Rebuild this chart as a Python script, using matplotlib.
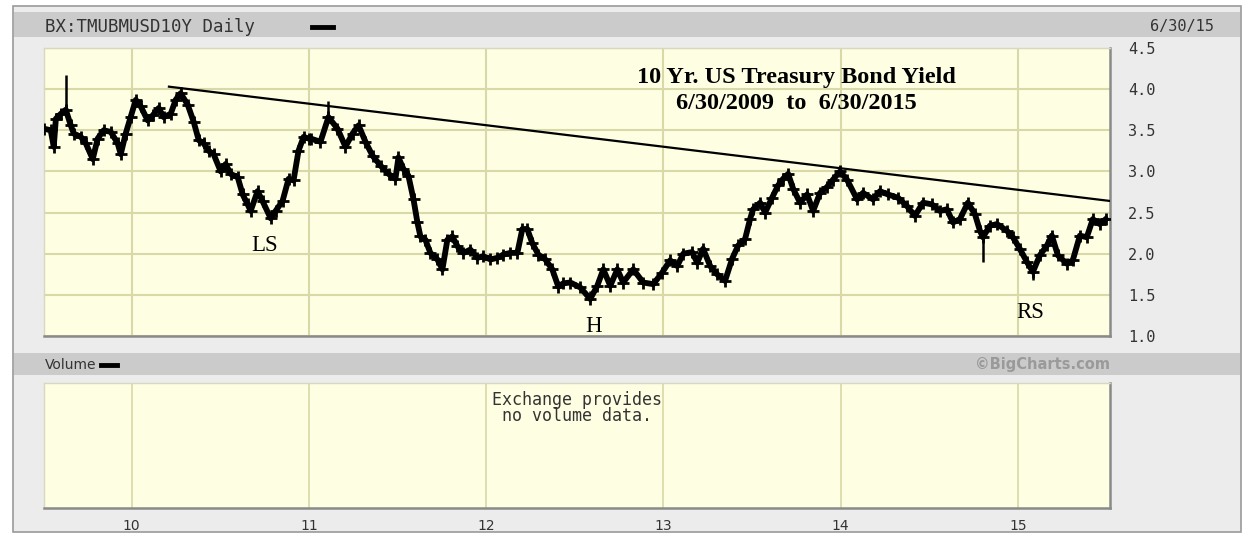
import matplotlib
matplotlib.use("Agg")
import matplotlib.pyplot as plt
from matplotlib.patches import Rectangle
from matplotlib.lines import Line2D

# ---------------- data (decimal years, yield %) ----------------
t = [2009.504, 2009.543, 2009.560, 2009.572, 2009.600, 2009.628, 2009.656, 2009.673,
     2009.713, 2009.741, 2009.780, 2009.808, 2009.842, 2009.882, 2009.921, 2009.938,
     2009.966, 2009.994, 2010.023, 2010.051, 2010.090, 2010.118, 2010.152, 2010.180,
     2010.220, 2010.248, 2010.276, 2010.316, 2010.350, 2010.378, 2010.406, 2010.434,
     2010.462, 2010.502, 2010.530, 2010.558, 2010.598, 2010.626, 2010.654, 2010.671,
     2010.710, 2010.738, 2010.784, 2010.812, 2010.851, 2010.885, 2010.913, 2010.941,
     2010.970, 2010.998, 2011.009, 2011.065, 2011.110, 2011.161, 2011.206, 2011.246,
     2011.280, 2011.319, 2011.359, 2011.404, 2011.449, 2011.488, 2011.505, 2011.533,
     2011.561, 2011.590, 2011.612, 2011.629, 2011.657, 2011.685, 2011.725, 2011.753,
     2011.781, 2011.809, 2011.838, 2011.872, 2011.911, 2011.950, 2011.984, 2012.024,
     2012.063, 2012.097, 2012.136, 2012.176, 2012.204, 2012.232, 2012.260, 2012.294,
     2012.334, 2012.373, 2012.407, 2012.435, 2012.475, 2012.531, 2012.587, 2012.627,
     2012.661, 2012.700, 2012.740, 2012.773, 2012.830, 2012.886, 2012.943, 2012.993,
     2013.038, 2013.078, 2013.112, 2013.162, 2013.191, 2013.224, 2013.264, 2013.303,
     2013.348, 2013.388, 2013.422, 2013.461, 2013.489, 2013.506, 2013.546, 2013.574,
     2013.613, 2013.647, 2013.675, 2013.704, 2013.732, 2013.771, 2013.811, 2013.845,
     2013.884, 2013.923, 2013.957, 2013.997, 2014.036, 2014.093, 2014.126, 2014.183,
     2014.222, 2014.267, 2014.324, 2014.374, 2014.419, 2014.465, 2014.515, 2014.560,
     2014.600, 2014.634, 2014.673, 2014.718, 2014.758, 2014.786, 2014.803, 2014.842,
     2014.882, 2014.938, 2014.972, 2015.011, 2015.051, 2015.085, 2015.124, 2015.164,
     2015.192, 2015.226, 2015.276, 2015.310, 2015.350, 2015.389, 2015.423, 2015.462,
     2015.496]
yld = [3.52, 3.50, 3.30, 3.64, 3.70, 3.75, 3.56, 3.46,
       3.42, 3.34, 3.15, 3.40, 3.50, 3.48, 3.34, 3.21,
       3.46, 3.66, 3.87, 3.79, 3.62, 3.68, 3.77, 3.66,
       3.70, 3.87, 3.95, 3.81, 3.60, 3.38, 3.34, 3.25,
       3.21, 3.00, 3.09, 2.97, 2.93, 2.72, 2.60, 2.52,
       2.76, 2.64, 2.43, 2.52, 2.64, 2.91, 2.89, 3.25,
       3.42, 3.40, 3.40, 3.36, 3.66, 3.52, 3.30, 3.46,
       3.56, 3.36, 3.19, 3.07, 2.97, 2.91, 3.17, 3.03,
       2.95, 2.66, 2.38, 2.21, 2.17, 2.01, 1.93, 1.81,
       2.17, 2.21, 2.09, 2.01, 2.05, 1.95, 1.97, 1.93,
       1.95, 1.99, 2.01, 2.01, 2.30, 2.30, 2.13, 1.99,
       1.93, 1.81, 1.60, 1.64, 1.65, 1.59, 1.45, 1.61,
       1.81, 1.61, 1.81, 1.65, 1.81, 1.65, 1.63, 1.77,
       1.92, 1.85, 2.00, 2.02, 1.89, 2.06, 1.85, 1.75,
       1.67, 1.94, 2.10, 2.18, 2.42, 2.54, 2.62, 2.50,
       2.68, 2.83, 2.91, 2.97, 2.79, 2.62, 2.72, 2.52,
       2.74, 2.81, 2.90, 3.00, 2.90, 2.66, 2.74, 2.66,
       2.76, 2.72, 2.68, 2.58, 2.46, 2.62, 2.60, 2.52,
       2.54, 2.38, 2.42, 2.62, 2.48, 2.28, 2.20, 2.34,
       2.36, 2.28, 2.20, 2.06, 1.90, 1.78, 1.98, 2.10,
       2.22, 1.98, 1.88, 1.92, 2.22, 2.20, 2.42, 2.36,
       2.42]

# single-day spikes (date, low, high)
spike_t = [2009.628, 2011.110, 2012.587, 2014.803, 2015.085]
spike_lo = [3.70, 3.60, 1.42, 1.90, 1.68]
spike_hi = [4.17, 3.85, 1.55, 2.25, 1.85]

# resistance (trend) line
trend_t = [2010.21, 2015.60]
trend_y = [4.03, 2.62]

year_ticks = [2010, 2011, 2012, 2013, 2014, 2015]
year_labels = ["10", "11", "12", "13", "14", "15"]
y_ticks = [1.0, 1.5, 2.0, 2.5, 3.0, 3.5, 4.0, 4.5]
y_labels = ["1.0", "1.5", "2.0", "2.5", "3.0", "3.5", "4.0", "4.5"]

pattern_labels = ["LS", "H", "RS"]
pattern_t = [2010.75, 2012.605, 2015.07]
pattern_y = [2.10, 1.12, 1.28]

# ---------------- figure ----------------
W, H = 1245, 533
fig = plt.figure(figsize=(W / 100, H / 100), dpi=100)
fig.patch.set_facecolor("white")

def fx(x):
    return x / W

def fy(y):
    return 1 - y / H

BG = "#ececec"
BAND = "#cbcbcb"
PLOT_BG = "#fefee2"
GRID = "#d8d8a8"
TXT = "#333333"
MONO = "DejaVu Sans Mono"

# outer panel
fig.patches.append(Rectangle((fx(13), fy(532)), fx(1241) - fx(13), fy(6) - fy(532),
                             transform=fig.transFigure, facecolor=BG,
                             edgecolor="#9a9a9a", lw=1.2, zorder=-2))
# header bands
fig.patches.append(Rectangle((fx(14), fy(37)), fx(1240) - fx(14), fy(12) - fy(37),
                             transform=fig.transFigure, facecolor=BAND,
                             edgecolor="none", zorder=-1))
fig.patches.append(Rectangle((fx(14), fy(375)), fx(1240) - fx(14), fy(353) - fy(375),
                             transform=fig.transFigure, facecolor=BAND,
                             edgecolor="none", zorder=-1))

# ---------------- main price axes ----------------
ax = fig.add_axes([fx(44), fy(336), fx(1110) - fx(44), fy(48) - fy(336)])
ax.set_zorder(1)
ax.set_facecolor(PLOT_BG)
ax.set_xlim(2009.505, 2015.52)
ax.set_ylim(1.0, 4.5)
ax.set_xticks(year_ticks)
ax.set_xticklabels([])
ax.set_yticks(y_ticks)
ax.set_yticklabels(y_labels, family=MONO, fontsize=11, color=TXT)
ax.yaxis.tick_right()
ax.tick_params(axis="y", length=0, pad=13)
ax.tick_params(axis="x", length=0)
ax.grid(True, color=GRID, lw=1.5)
ax.set_axisbelow(True)
for s in ["left", "top"]:
    ax.spines[s].set_color("#d8d8c0")
    ax.spines[s].set_linewidth(1)
for s in ["right", "bottom"]:
    ax.spines[s].set_color("#8a8a8a")
    ax.spines[s].set_linewidth(1.8)

ax.plot(t, yld, color="black", lw=4.2, solid_joinstyle="round", zorder=3)
ax.plot(t, yld, ls="none", marker="+", ms=9, mew=2.0, color="black", zorder=3)
ax.vlines(spike_t, spike_lo, spike_hi, color="black", lw=1.8, zorder=3)
ax.plot(trend_t, trend_y, color="black", lw=1.6, zorder=4)

for lab, xt, yv in zip(pattern_labels, pattern_t, pattern_y):
    ax.text(xt, yv, lab, family="Liberation Serif", fontsize=16.5, color="black",
            ha="center", va="center", zorder=5)

ax.text(0.706, 0.896, "10 Yr. US Treasury Bond Yield", transform=ax.transAxes,
        family="Liberation Serif", fontweight="bold", fontsize=17.5,
        ha="center", va="center", zorder=5)
ax.text(0.706, 0.809, "6/30/2009  to  6/30/2015", transform=ax.transAxes,
        family="Liberation Serif", fontweight="bold", fontsize=17.5,
        ha="center", va="center", zorder=5)

# ---------------- volume axes ----------------
av = fig.add_axes([fx(44), fy(508), fx(1110) - fx(44), fy(383) - fy(508)])
av.set_zorder(1)
av.set_facecolor(PLOT_BG)
av.set_xlim(2009.505, 2015.52)
av.set_ylim(0, 1)
av.set_xticks(year_ticks)
av.set_xticklabels(year_labels, family="DejaVu Sans", fontsize=10, color=TXT)
av.set_yticks([])
av.tick_params(axis="x", length=0, pad=8)
av.grid(True, axis="x", color=GRID, lw=1.2)
for s in ["left", "top"]:
    av.spines[s].set_color("#d8d8c0")
    av.spines[s].set_linewidth(1)
for s in ["right", "bottom"]:
    av.spines[s].set_color("#8a8a8a")
    av.spines[s].set_linewidth(1.8)
av.text(0.5, 0.80, "Exchange provides\nno volume data.", transform=av.transAxes,
        family=MONO, fontsize=12, color=TXT, ha="center", va="center",
        linespacing=0.9)

# ---------------- header texts ----------------
fig.text(fx(45), fy(27), "BX:TMUBMUSD10Y Daily", family=MONO, fontsize=12.5,
         color=TXT, ha="left", va="center")
fig.lines.append(Line2D([fx(312), fx(333)], [fy(27), fy(27)], transform=fig.transFigure,
                        color="black", lw=3.5))
fig.text(fx(1182), fy(27), "6/30/15", family=MONO, fontsize=11, color=TXT,
         ha="center", va="center")
fig.text(fx(45), fy(365), "Volume", family="DejaVu Sans", fontsize=10,
         color=TXT, ha="left", va="center")
fig.lines.append(Line2D([fx(101), fx(117)], [fy(365), fy(365)], transform=fig.transFigure,
                        color="black", lw=3.5))
fig.text(fx(1110), fy(365), "\u00a9BigCharts.com", family="DejaVu Sans", fontweight="bold",
         fontsize=10.5, color="#9a9a9a", ha="right", va="center")

fig.savefig("out.png", dpi=100, facecolor=fig.get_facecolor())
